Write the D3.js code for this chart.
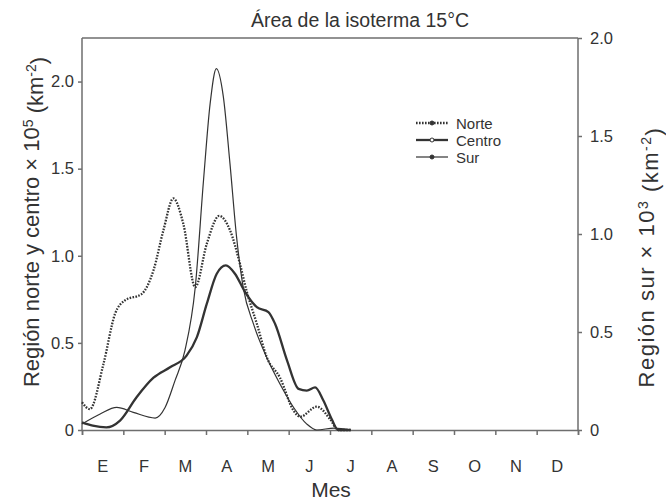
<!DOCTYPE html>
<html><head><meta charset="utf-8">
<script src="https://cdn.jsdelivr.net/npm/d3@7"></script>
<style>
body{margin:0;background:#fff;}
svg text{font-family:"Liberation Sans",Arial,sans-serif;fill:#333;}
</style></head><body>
<svg id="c" width="666" height="501"></svg>
<script>
// month index (0 = start of January, 12 = end of December)
const months = ["E","F","M","A","M","J","J","A","S","O","N","D"];
const leftTicks = [0, 0.5, 1.0, 1.5, 2.0];
const rightTicks = [0, 0.5, 1.0, 1.5, 2.0];
const norteT = [0,0.19,0.52,0.80,1.04,1.44,1.73,1.97,2.21,2.45,2.74,3.02,3.32,3.58,3.82,3.98,4.23,4.47,4.79,5.12,5.28,5.68,6.0,6.2,6.5];
const norteV = [0.159,0.12,0.38,0.667,0.744,0.78,0.917,1.147,1.329,1.185,0.82,1.07,1.229,1.147,0.955,0.80,0.61,0.418,0.30,0.111,0.076,0.134,0.063,0.0,0.0];
const centroT = [0,0.26,0.59,0.92,1.32,1.73,2.13,2.53,2.78,3.02,3.26,3.48,3.70,3.95,4.23,4.51,4.67,4.96,5.24,5.44,5.64,5.84,6.04,6.2,6.5];
const centroV = [0.044,0.025,0.015,0.054,0.188,0.30,0.36,0.427,0.533,0.725,0.897,0.945,0.897,0.79,0.705,0.677,0.61,0.40,0.236,0.226,0.245,0.169,0.063,0.0,0.0];
const surT = [0,0.44,0.84,1.24,1.77,2.01,2.25,2.49,2.74,2.94,3.10,3.25,3.42,3.58,3.74,3.90,4.15,4.47,4.79,5.12,5.44,5.68,6.1,6.5];
const surV = [0.031,0.082,0.115,0.09,0.061,0.115,0.252,0.405,0.728,1.274,1.665,1.844,1.70,1.359,0.984,0.728,0.54,0.37,0.235,0.115,0.03,0.0,0.01,0.0];

const svg = d3.select("#c");
const L = 82, R = 578, T = 38, B = 430;
const x = d3.scaleLinear().domain([0,12]).range([L,R]);
const yL = d3.scaleLinear().domain([0,2.25]).range([B,T]);
const yR = d3.scaleLinear().domain([0,2.0]).range([B,T]);
const axisCol = "#6e6e6e";

// box top
svg.append("line").attr("x1",L).attr("x2",R).attr("y1",T).attr("y2",T).attr("stroke",axisCol).attr("stroke-width",1.5);

const gx = svg.append("g").attr("transform",`translate(0,${B})`)
  .call(d3.axisBottom(x).tickValues(d3.range(0,13)).tickSize(5).tickFormat(""));
const gl = svg.append("g").attr("transform",`translate(${L},0)`)
  .call(d3.axisLeft(yL).tickValues(leftTicks).tickSize(4).tickPadding(4).tickFormat(d=>d===0?"0":d3.format(".1f")(d)));
const gr = svg.append("g").attr("transform",`translate(${R},0)`)
  .call(d3.axisRight(yR).tickValues(rightTicks).tickSize(4).tickPadding(8).tickFormat(d=>d===0?"0":d3.format(".1f")(d)));
[gx,gl,gr].forEach(g=>{
  g.select(".domain").attr("stroke",axisCol).attr("stroke-width",1.5);
  g.selectAll(".tick line").attr("stroke",axisCol).attr("stroke-width",1.5);
  g.selectAll("text").style("font-size","16.5px").attr("fill","#333");
});
gr.select(".domain").attr("d",`M0,${B}V${T}`);
gl.select(".domain").attr("d",`M0,${B}V${T}`);

// month labels
svg.append("g").selectAll("text").data(months).join("text")
  .attr("x",(d,i)=>x(i+0.5)).attr("y",472).attr("text-anchor","middle")
  .style("font-size","16.5px").text(d=>d);

// curves
const lineL = (ts,vs)=>d3.line().x((d,i)=>x(ts[i])).y(d=>yL(d)).curve(d3.curveMonotoneX)(vs);
const lineR = (ts,vs)=>d3.line().x((d,i)=>x(ts[i])).y(d=>yR(d)).curve(d3.curveMonotoneX)(vs);
const lc = "#333";
svg.append("path").attr("d",lineR(surT,surV)).attr("fill","none").attr("stroke",lc).attr("stroke-width",1.2);
svg.append("path").attr("d",lineL(centroT,centroV)).attr("fill","none").attr("stroke",lc).attr("stroke-width",2.3);
svg.append("path").attr("d",lineL(norteT,norteV)).attr("fill","none").attr("stroke",lc).attr("stroke-width",2.3).attr("stroke-dasharray","1.6,1.4");

// legend
const leg = [
  {name:"Norte", w:2.3, dash:"1.6,1.4", fill:lc},
  {name:"Centro", w:2.3, dash:null, fill:"#fff"},
  {name:"Sur", w:1.2, dash:null, fill:lc}
];
const lg = svg.append("g");
leg.forEach((d,i)=>{
  const yy = 123 + i*17;
  lg.append("line").attr("x1",416).attr("x2",448).attr("y1",yy).attr("y2",yy)
    .attr("stroke",lc).attr("stroke-width",d.w).attr("stroke-dasharray",d.dash);
  lg.append("circle").attr("cx",432).attr("cy",yy).attr("r",2).attr("fill",d.fill).attr("stroke",lc).attr("stroke-width",1);
  lg.append("text").attr("x",456).attr("y",yy+5.5).style("font-size","15px").text(d.name);
});

// titles
svg.append("text").attr("x",360).attr("y",27).attr("text-anchor","middle").style("font-size","19.5px").text("Área de la isoterma 15°C");
svg.append("text").attr("x",331).attr("y",497).attr("text-anchor","middle").style("font-size","21px").text("Mes");
const t1 = svg.append("text").attr("transform","translate(39,222) rotate(-90)").attr("text-anchor","middle").style("font-size","22px");
t1.append("tspan").text("Región norte y centro × 10");
t1.append("tspan").attr("dy","-0.45em").style("font-size","14px").text("5");
t1.append("tspan").attr("dy","0.45em").text(" (km");
t1.append("tspan").attr("dy","-0.45em").style("font-size","14px").text("-2");
t1.append("tspan").attr("dy","0.45em").text(")");
const t2 = svg.append("text").attr("transform","translate(654,257) rotate(-90)").attr("text-anchor","middle").style("font-size","22px").style("letter-spacing","1.5px");
t2.append("tspan").text("Región sur × 10");
t2.append("tspan").attr("dy","-0.45em").style("font-size","14px").text("3");
t2.append("tspan").attr("dy","0.45em").text(" (km");
t2.append("tspan").attr("dy","-0.45em").style("font-size","14px").text("-2");
t2.append("tspan").attr("dy","0.45em").text(")");
</script></body></html>
